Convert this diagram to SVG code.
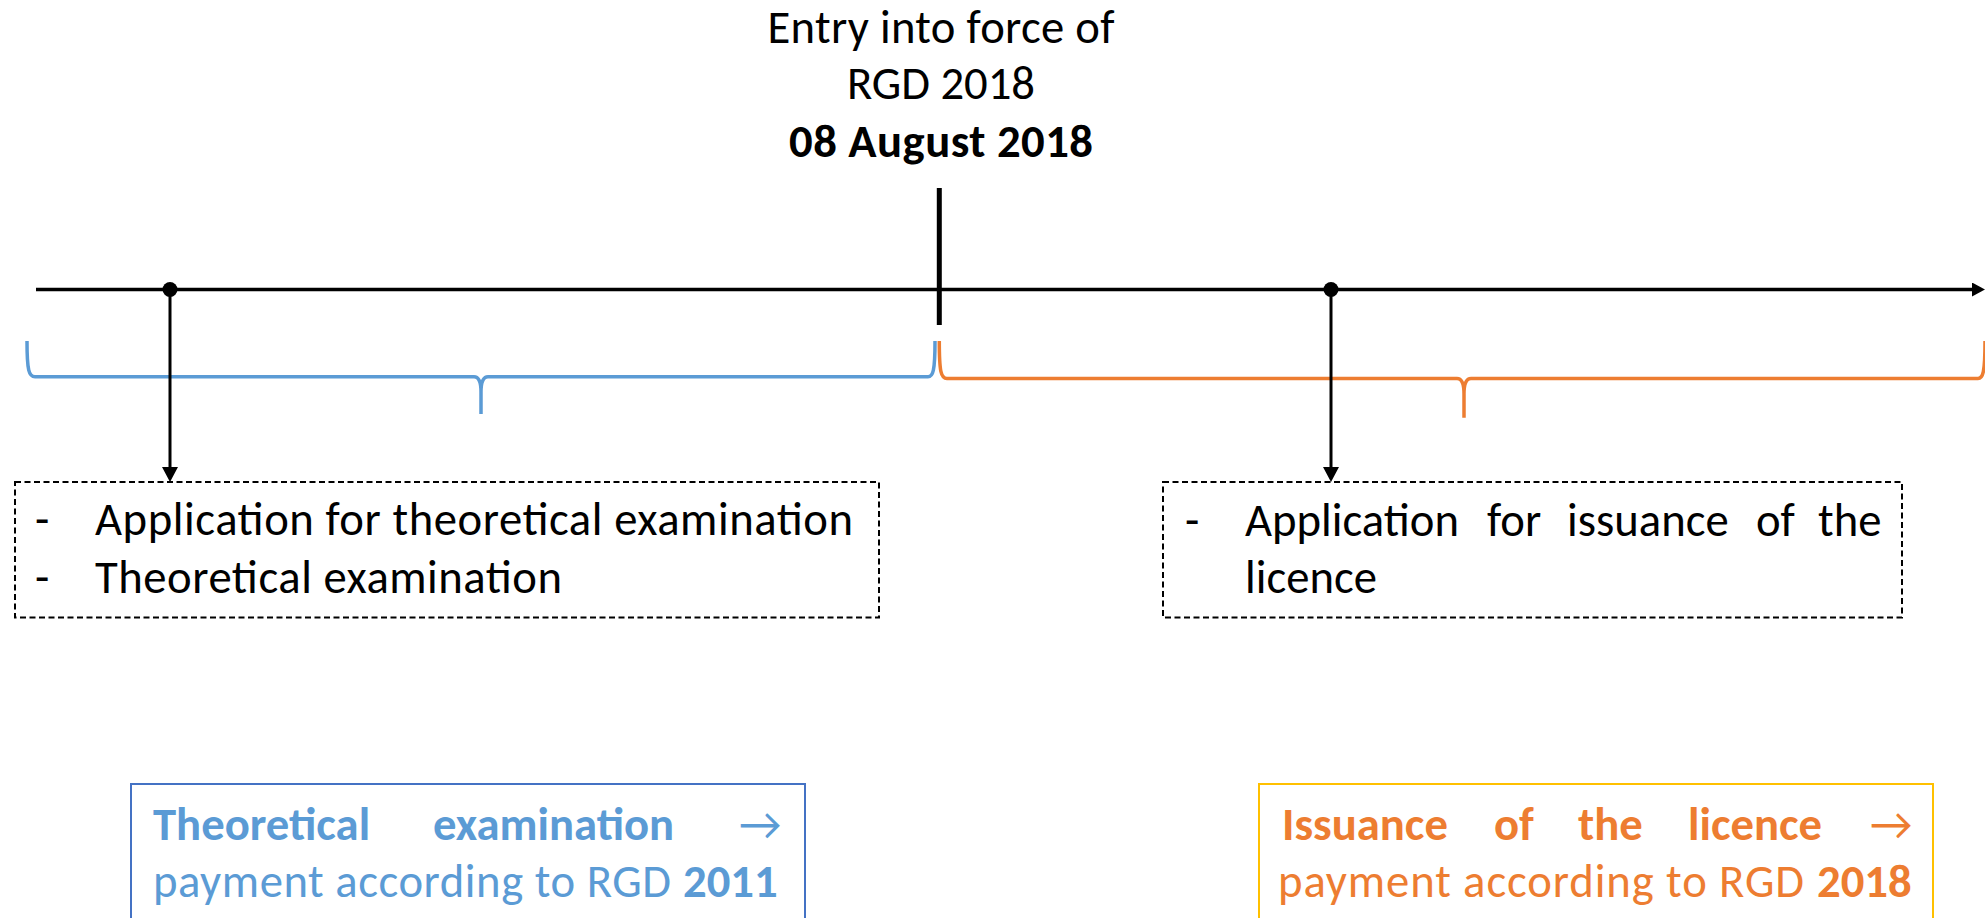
<svg xmlns="http://www.w3.org/2000/svg" width="1985" height="918" viewBox="0 0 1985 918">
  <defs>
    <style>
      text { font-family: Calibri, Carlito, Lato, "Liberation Sans", sans-serif; font-size: 46.7px; fill: #000; }
      .b { font-weight: bold; }
      .blue { fill: #5B9BD5; }
      .orange { fill: #ED7D31; }
      .axis { stroke: #000; stroke-width: 3.5; fill: none; }
      .drop { stroke: #000; stroke-width: 3; fill: none; }
      .tick { stroke: #000; stroke-width: 5; }
      .dash { fill: none; stroke: #000; stroke-width: 2; stroke-dasharray: 6 3.5; }
      .brace { fill: none; stroke-width: 3.5; stroke-linejoin: round; stroke-linecap: butt; }
    </style>
    <marker id="axisHead" markerUnits="userSpaceOnUse" markerWidth="13" markerHeight="14" refX="2" refY="7" orient="auto">
      <path d="M0,0 L13,7 L0,14 Z" fill="#000"/>
    </marker>
    <marker id="dropHead" markerUnits="userSpaceOnUse" markerWidth="15" markerHeight="16" refX="3" refY="8" orient="auto">
      <path d="M0,0 L15,8 L0,16 Z" fill="#000"/>
    </marker>
  </defs>

  <rect width="1985" height="918" fill="#fff"/>

  <!-- date label -->
  <g id="entry-into-force">
    <text x="941" y="43" text-anchor="middle" textLength="347" lengthAdjust="spacing">Entry into force of</text>
    <text x="941" y="99" text-anchor="middle" textLength="188" lengthAdjust="spacing">RGD 2018</text>
    <text x="941" y="157" text-anchor="middle" class="b" textLength="304" lengthAdjust="spacing">08 August 2018</text>
  </g>

  <!-- time axis -->
  <g id="timeline">
    <line class="axis" x1="36" y1="289.5" x2="1974" y2="289.5" marker-end="url(#axisHead)"/>
    <line class="tick" x1="939.3" y1="188" x2="939.3" y2="325"/>
    <circle cx="170" cy="289.5" r="7.5" fill="#000"/>
    <circle cx="1331" cy="289.5" r="7.5" fill="#000"/>
  </g>

  <!-- periods before / after the date -->
  <g id="brace-before">
    <path class="brace" stroke="#5B9BD5" d="M27,341 C27,371 29,376.7 35,376.7 L474,376.7 Q481,376.7 481,392 L481,414 M481,414 L481,392 Q481,376.7 488,376.7 L928,376.7 C933,376.7 935,371 935,341"/>
  </g>
  <g id="brace-after">
    <path class="brace" stroke="#ED7D31" d="M939.3,341 C939.3,372 941,378.5 947,378.5 L1457,378.5 Q1464,378.5 1464,394 L1464,417.7 M1464,417.7 L1464,394 Q1464,378.5 1471,378.5 L1978,378.5 C1983,378.5 1985,372 1985,341"/>
  </g>

  <!-- connectors from events to their boxes -->
  <g id="connectors">
    <line class="drop" x1="170" y1="289.5" x2="170" y2="470" marker-end="url(#dropHead)"/>
    <line class="drop" x1="1331" y1="289.5" x2="1331" y2="470" marker-end="url(#dropHead)"/>
  </g>

  <g id="steps-before">
    <rect class="dash" x="15" y="482" width="864" height="135.5"/>
    <text x="35" y="535">-</text>
    <text x="95" y="535" textLength="758" lengthAdjust="spacing">Application for theoretical examination</text>
    <text x="35" y="593">-</text>
    <text x="95" y="593" textLength="467" lengthAdjust="spacing">Theoretical examination</text>
  </g>

  <g id="steps-after">
    <rect class="dash" x="1163" y="482" width="739" height="135.5"/>
    <text x="1185" y="536">-</text>
    <text y="536"><tspan x="1245">Application</tspan><tspan x="1487">for</tspan><tspan x="1567">issuance</tspan><tspan x="1756">of</tspan><tspan x="1818">the</tspan></text>
    <text x="1245" y="593">licence</text>
  </g>

  <g id="payment-2011">
    <rect x="131" y="784" width="674" height="160" fill="none" stroke="#4472C4" stroke-width="2"/>
    <text class="blue b" y="840"><tspan x="153">Theoretical</tspan><tspan x="433">examination</tspan></text>
    <text class="blue" x="739" y="840">→</text>
    <text class="blue" y="897"><tspan x="153" textLength="518" lengthAdjust="spacing">payment according to RGD</tspan><tspan class="b" x="683">2011</tspan></text>
  </g>

  <g id="payment-2018">
    <rect x="1259" y="784" width="674" height="160" fill="none" stroke="#FFC000" stroke-width="2"/>
    <text class="orange b" y="840"><tspan x="1282">Issuance</tspan><tspan x="1494">of</tspan><tspan x="1578">the</tspan><tspan x="1688">licence</tspan></text>
    <text class="orange" x="1870" y="840">→</text>
    <text class="orange" y="897"><tspan x="1278" textLength="526" lengthAdjust="spacing">payment according to RGD</tspan><tspan class="b" x="1817">2018</tspan></text>
  </g>
</svg>
